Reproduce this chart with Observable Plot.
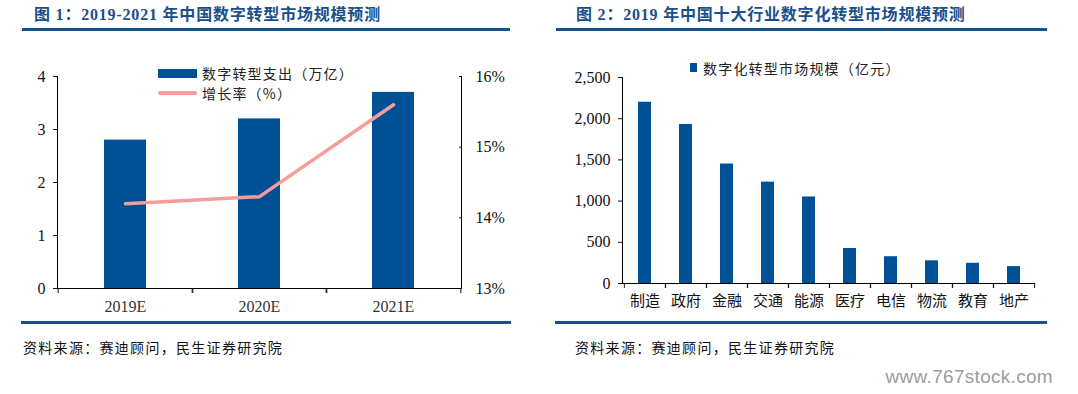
<!DOCTYPE html>
<html>
<head>
<meta charset="utf-8">
<script src="https://cdn.jsdelivr.net/npm/d3@7"></script>
<script src="https://cdn.jsdelivr.net/npm/@observablehq/plot@0.6"></script>
<style>
  html, body { margin: 0; padding: 0; background: #fff; }
  #root { position: relative; width: 1078px; height: 394px; overflow: hidden; background: #fff;
    font-family: "Liberation Serif", "Noto Sans CJK SC", serif; color: #111; }
  .abs { position: absolute; }
  .title { font-weight: bold; font-size: 16px; color: #1a4f8c; letter-spacing: 0.8px; white-space: nowrap; line-height: 18px; }
  .hr { background: #15508f; height: 2.5px; }
  .cap { font-family: "Noto Sans CJK SC", sans-serif; font-size: 14px; letter-spacing: 1.3px; color: #111; white-space: nowrap; line-height: 16px; }
  .leg { font-family: "Noto Sans CJK SC", sans-serif; font-size: 14px; letter-spacing: 1.2px; color: #222; white-space: nowrap; line-height: 16px; }
  .wm { font-family: "Liberation Sans", Arial, sans-serif; font-size: 19px; color: #9c9c9c; white-space: nowrap; letter-spacing: 0.3px; }
  svg { overflow: visible; }
</style>
</head>
<body>
<div id="root"></div>
<script>
// ---------- data ----------
const years = ["2019E", "2020E", "2021E"];
const spending = [2.8, 3.2, 3.7];          // 数字转型支出（万亿）
const growth = [14.2, 14.3, 15.6];         // 增长率（%）
const leftTicks = [0, 1, 2, 3, 4];
const rightTicks = [13, 14, 15, 16];

const industries = ["制造", "政府", "金融", "交通", "能源", "医疗", "电信", "物流", "教育", "地产"];
const marketSize = [2200, 1930, 1450, 1230, 1050, 425, 325, 275, 245, 205]; // 亿元
const marketTicks = [0, 500, 1000, 1500, 2000, 2500];

const title1 = "图 1：2019-2021 年中国数字转型市场规模预测";
const title2 = "图 2：2019 年中国十大行业数字化转型市场规模预测";
const source = "资料来源：赛迪顾问，民生证券研究院";
const legend1 = ["数字转型支出（万亿）", "增长率（%）"];
const legend2 = "数字化转型市场规模（亿元）";
const watermark = "www.767stock.com";

// ---------- styles ----------
const BLUE = "#005096";
const PINK = "#f59c9c";
const FONT = "'Liberation Serif', 'Noto Sans CJK SC', serif";

const root = document.getElementById("root");
function add(html, cls, css) {
  const d = document.createElement("div");
  d.className = "abs " + cls;
  Object.assign(d.style, css);
  d.textContent = html;
  root.appendChild(d);
  return d;
}

// ---------- left chart (bars) ----------
const L = {width: 540, height: 280, marginLeft: 57, marginRight: 79, marginTop: 36, marginBottom: 32};
const step1 = (L.width - L.marginLeft - L.marginRight) / years.length;
const leftData = years.map((y, i) => ({year: y, v: spending[i], g: growth[i]}));
const baseStyle = {fontFamily: FONT, fontSize: "16px", color: "#111", background: "transparent", overflow: "visible"};

const barsL = Plot.plot({
  ...L,
  style: baseStyle,
  x: {domain: years, type: "band", paddingInner: 0.69, paddingOuter: 0.345, label: null},
  y: {domain: [0, 4], label: null},
  marks: [
    Plot.barY(leftData, {x: "year", y: "v", fill: BLUE}),
    Plot.frame({anchor: "left", stroke: "#000"}),
    Plot.ruleY([0], {stroke: "#000"}),
    Plot.axisY({ticks: leftTicks, tickSize: 4, tickPadding: 8, tickFormat: d => d, label: null}),
    Plot.axisX({tickSize: 0, tickPadding: 12, label: null, fill: "#333"}),
    Plot.axisX({tickSize: 5, tickFormat: () => "", label: null, dx: -step1 / 2}),
    Plot.axisX({tickSize: 5, tickFormat: () => "", label: null, dx: step1 / 2})
  ]
});
barsL.classList.add("abs");
Object.assign(barsL.style, {left: "0px", top: "40px"});
root.appendChild(barsL);

// ---------- left chart (growth line, right axis) ----------
const lineL = Plot.plot({
  ...L,
  style: baseStyle,
  x: {domain: years, type: "band", paddingInner: 0.69, paddingOuter: 0.345, axis: null},
  y: {domain: [13, 16], label: null},
  marks: [
    Plot.lineY(leftData, {x: "year", y: "g", stroke: PINK, strokeWidth: 3.5, strokeLinecap: "round"}),
    Plot.frame({anchor: "right", stroke: "#000"}),
    Plot.axisY({anchor: "right", ticks: rightTicks, tickSize: 3, dx: -3, tickFormat: () => "", label: null}),
    Plot.axisY({anchor: "right", ticks: rightTicks, tickSize: 0, tickPadding: 14, tickFormat: d => d + "%", label: null})
  ]
});
lineL.classList.add("abs");
Object.assign(lineL.style, {left: "0px", top: "40px"});
root.appendChild(lineL);

// ---------- right chart ----------
const R = {width: 538, height: 280, marginLeft: 82, marginRight: 43, marginTop: 37, marginBottom: 37};
const step2 = (R.width - R.marginLeft - R.marginRight) / industries.length;
const rightData = industries.map((k, i) => ({k, v: marketSize[i]}));
const barsR = Plot.plot({
  ...R,
  style: baseStyle,
  x: {domain: industries, type: "band", paddingInner: 0.69, paddingOuter: 0.345, label: null},
  y: {domain: [0, 2500], label: null},
  marks: [
    Plot.barY(rightData, {x: "k", y: "v", fill: BLUE}),
    Plot.frame({anchor: "left", stroke: "#000"}),
    Plot.ruleY([0], {stroke: "#000"}),
    Plot.axisY({ticks: marketTicks, tickSize: 4, tickPadding: 8, tickFormat: d3.format(","), label: null}),
    Plot.axisX({tickSize: 0, tickPadding: 12, label: null, fontSize: 15}),
    Plot.axisX({tickSize: 5, tickFormat: () => "", label: null, dx: -step2 / 2}),
    Plot.axisX({tickSize: 5, tickFormat: () => "", label: null, dx: step2 / 2})
  ]
});
barsR.classList.add("abs");
Object.assign(barsR.style, {left: "540px", top: "40px"});
root.appendChild(barsR);

// ---------- titles, rules, legends, captions ----------
add(title1, "title", {left: "34px", top: "6px"});
add(title2, "title", {left: "576px", top: "6px"});
add("", "hr", {left: "22px", top: "28px", width: "488px"});
add("", "hr", {left: "556px", top: "28px", width: "491px"});
add("", "hr", {left: "21px", top: "321px", width: "490px"});
add("", "hr", {left: "555px", top: "321px", width: "492px"});

// left legend
add("", "", {left: "158px", top: "69px", width: "39px", height: "9px", background: BLUE});
add(legend1[0], "leg", {left: "202px", top: "65px"});
add("", "", {left: "158px", top: "91px", width: "39px", height: "4px", background: PINK, borderRadius: "2px"});
add(legend1[1], "leg", {left: "202px", top: "85px"});

// right legend
add("", "", {left: "690px", top: "63px", width: "7px", height: "9px", background: BLUE});
add(legend2, "leg", {left: "703px", top: "60px"});

add(source, "cap", {left: "23px", top: "339px"});
add(source, "cap", {left: "575px", top: "339px"});
add(watermark, "wm", {right: "25px", top: "366px"});
</script>
</body>
</html>
